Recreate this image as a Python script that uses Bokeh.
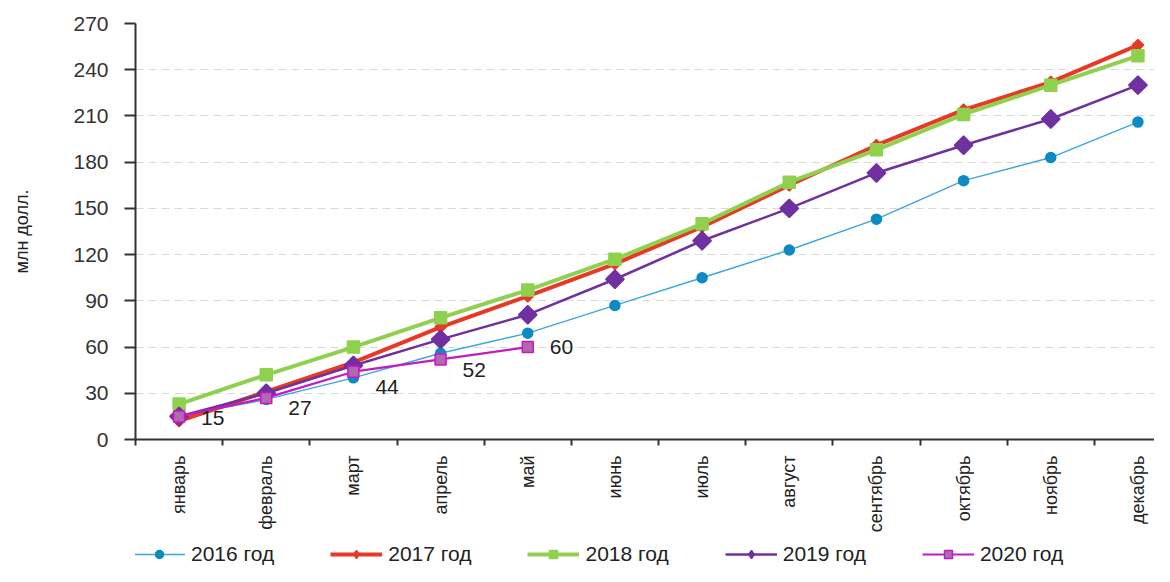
import numpy as np
from bokeh.plotting import figure
from bokeh.layouts import column
from bokeh.models import (Range1d, FixedTicker, CustomJSTickFormatter, Legend, LegendItem,
                          ColumnDataSource)
from bokeh.core.properties import value
from bokeh.embed import file_html
from bokeh.resources import INLINE

months = ["январь", "февраль", "март", "апрель", "май", "июнь", "июль",
          "август", "сентябрь", "октябрь", "ноябрь", "декабрь"]
y2016 = [15, 26, 40, 56, 69, 87, 105, 123, 143, 168, 183, 206]
y2017 = [12, 31, 50, 73, 93, 114, 138, 165, 191, 214, 232, 256]
y2018 = [23, 42, 60, 79, 97, 117, 140, 167, 188, 211, 230, 249]
y2019 = [15, 30, 48, 65, 81, 104, 129, 150, 173, 191, 208, 230]
y2020 = [15, 27, 44, 52, 60]
series_names = ["2016 год", "2017 год", "2018 год", "2019 год", "2020 год"]
y_ticks = [0, 30, 60, 90, 120, 150, 180, 210, 240, 270]
y_title = "млн долл."

# styling (not data)
label_dy = [2, 10, 15, 11, 0]
FONT = "Liberation Sans"
styles = [
    dict(lc="#3AA8D8", lw=1.4, marker="circle", size=10, angle=0, fc="#0C8AC4", mc="#0C8AC4",
         lmarker="circle", lsize=10),
    dict(lc="#E63A26", lw=4, marker="square", size=8, angle=np.pi / 4, fc="#E63A26", mc="#E63A26",
         lmarker="diamond", lsize=12),
    dict(lc="#8FD14F", lw=4, marker="square", size=12, angle=0, fc="#8FD14F", mc="#8FD14F",
         lmarker="square", lsize=12),
    dict(lc="#7030A0", lw=2.5, marker="square", size=13, angle=np.pi / 4, fc="#7030A0", mc="#7030A0",
         lmarker="diamond", lsize=18),
    dict(lc="#C21BC2", lw=2.2, marker="square", size=11, angle=0, fc="#C25AC2", mc="#C21BC2",
         lmarker="square", lsize=11),
]

xc = [i + 0.5 for i in range(len(months))]
x20 = xc[:len(y2020)]
series_x = [xc, xc, xc, xc, x20]
series_y = [y2016, y2017, y2018, y2019, y2020]

p = figure(width=1154, height=540, output_backend="svg", toolbar_location=None,
           x_range=Range1d(0, 11.69), y_range=Range1d(0, 270),
           min_border_left=135, min_border_right=0, min_border_top=23,
           min_border_bottom=101)
p.outline_line_color = None
p.background_fill_color = "white"
p.border_fill_color = "white"

# grid
p.xgrid.grid_line_color = None
p.ygrid.ticker = FixedTicker(ticks=y_ticks)
p.ygrid.grid_line_color = "#d9d9d9"
p.ygrid.grid_line_dash = "8 5"
p.ygrid.grid_line_width = 1

# y axis
ya = p.yaxis[0]
ya.ticker = FixedTicker(ticks=y_ticks)
ya.axis_line_color = "#333333"
ya.axis_line_width = 2
ya.major_tick_line_color = "#333333"
ya.major_tick_line_width = 2
ya.major_tick_out = 11
ya.major_tick_in = 0
ya.minor_tick_out = 0
ya.minor_tick_in = 0
ya.major_label_standoff = 16
ya.major_label_text_font = FONT
ya.major_label_text_font_size = "21px"
ya.major_label_text_color = "#333333"
ya.axis_label = y_title
ya.axis_label_text_font = FONT
ya.axis_label_text_font_size = "18px"
ya.axis_label_text_font_style = "normal"
ya.axis_label_text_color = "#222222"
ya.axis_label_standoff = 38

# x axis
xa = p.xaxis[0]
xa.ticker = FixedTicker(ticks=xc, minor_ticks=list(range(len(months) + 1)))
xa.formatter = CustomJSTickFormatter(args=dict(labels=months),
                                     code="return labels[Math.floor(tick)] || '';")
xa.axis_line_color = "#333333"
xa.axis_line_width = 2
xa.major_tick_out = 0
xa.major_tick_in = 0
xa.minor_tick_line_color = "#333333"
xa.minor_tick_line_width = 2
xa.minor_tick_out = 6
xa.minor_tick_in = 0
xa.major_label_orientation = np.pi / 2
xa.major_label_standoff = 10
xa.major_label_text_font = FONT
xa.major_label_text_font_size = "18px"
xa.major_label_text_color = "#222222"

# series
for xs, ys, st in zip(series_x, series_y, styles):
    p.line(xs, ys, line_color=st["lc"], line_width=st["lw"])
    p.scatter(xs, ys, marker=st["marker"], size=st["size"], angle=st["angle"],
              fill_color=st["fc"], line_color=st["mc"], line_width=1.5)
p.scatter(x20, y2020, marker="x", size=9, line_color="#8a8a8a", line_width=1.2)

# data labels for 2020
src = ColumnDataSource(dict(x=x20, y=y2020, t=[str(v) for v in y2020], dy=label_dy))
p.text(x="x", y="y", text="t", source=src, x_offset=22, y_offset="dy",
       text_font=value(FONT), text_font_size="21px", text_color="#222222",
       text_align="left", text_baseline="middle")

# legend strip (separate small figure below the chart; its series lie outside its view)
lg = figure(width=1154, height=26, output_backend="svg", toolbar_location=None,
            x_range=Range1d(0, 1), y_range=Range1d(-2, -1),
            min_border=0, min_border_left=0, min_border_right=0,
            min_border_top=0, min_border_bottom=0)
lg.axis.visible = False
lg.grid.visible = False
lg.outline_line_color = None
lg.border_fill_color = "white"
lg.background_fill_color = "white"

items = []
for i, (xs, ys, st) in enumerate(zip(series_x, series_y, styles)):
    rl = lg.line(xs, ys, line_color=st["lc"], line_width=st["lw"])
    rm = lg.scatter(xs, ys, marker=st["lmarker"], size=st["lsize"],
                    fill_color=st["fc"], line_color=st["mc"], line_width=1.5)
    rs = [rl, rm]
    if i == 4:
        rs.append(lg.scatter(xs, ys, marker="x", size=9, line_color="#8a8a8a", line_width=1.2))
    items.append(LegendItem(label=series_names[i], renderers=rs))

legend = Legend(items=items, orientation="horizontal", location=(-2, 0))
legend.label_text_font = FONT
legend.label_text_font_size = "21px"
legend.label_text_color = "#222222"
legend.glyph_width = 52
legend.glyph_height = 20
legend.label_standoff = 6
legend.spacing = 56
legend.padding = 0
legend.margin = 0
legend.border_line_color = None
legend.background_fill_alpha = 0
lg.add_layout(legend, "center")

layout = column(p, lg, spacing=0)
open("out.html", "w").write(file_html(layout, INLINE))
